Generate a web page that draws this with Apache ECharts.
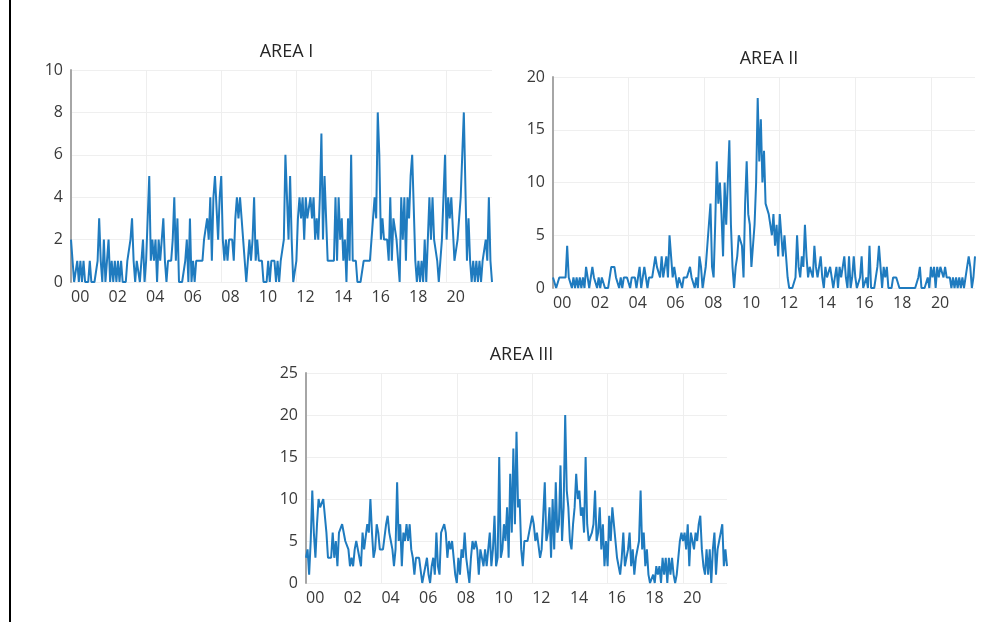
<!DOCTYPE html>
<html lang="en" style="height: 100%">
<head>
  <meta charset="utf-8">
  <script type="text/javascript" src="https://cdn.jsdelivr.net/npm/echarts@6/dist/echarts.min.js"></script>
</head>
<body style="height: 100%; margin: 0; background: #fff">
  <div id="main" style="height: 636px; width: 1006px"></div>

  <script type="text/javascript">
    // counts per 5-minute slot from 00:00, one row = 2 hours
    var areaI = [
      2,1,0,0,1,0,1,0,1,0,0,0,1,0,0,0,0,1,3,1,0,2,0,1,
      2,0,1,0,1,0,1,0,1,0,0,0,1,1,2,3,1,0,1,1,0,1,2,0,
      1,1,5,1,2,1,2,0,2,1,1,3,1,0,1,1,1,2,4,1,3,0,0,0,
      0,1,2,0,3,0,1,0,1,1,1,1,1,2,2,3,2,4,1,4,5,5,2,4,
      5,2,1,2,1,2,2,2,1,3,4,3,4,3,2,1,0,1,2,1,2,4,1,2,
      1,1,1,0,0,0,1,0,1,1,1,0,1,0,1,1,2,6,6,2,5,2,0,0,
      1,3,4,3,4,2,4,3,3,4,3,4,2,3,2,4,7,2,5,5,1,1,1,1,
      1,4,1,4,2,3,1,2,0,3,1,6,1,1,1,0,0,0,0,1,1,1,1,1,
      1,3,4,3,8,6,2,3,2,2,2,1,4,1,3,3,2,1,0,4,2,4,1,4,
      3,5,6,6,1,0,1,0,1,0,2,0,2,4,2,4,2,2,1,0,1,2,2,6,
      2,4,3,4,4,1,1,2,3,4,6,8,8,1,3,1,0,1,0,1,0,1,0,1,
      1,2,1,4,1,0
    ];
    var areaII = [
      1,1,0,0,1,1,1,1,1,4,1,1,0,1,0,1,0,1,0,1,0,2,1,0,
      1,2,1,1,0,1,0,1,1,0,0,0,1,2,2,2,1,1,0,1,0,1,1,1,
      1,0,1,1,1,0,1,2,0,1,2,2,0,1,1,1,1,3,2,2,1,3,1,1,
      3,1,5,3,1,2,1,0,1,1,0,1,1,1,1,2,1,1,0,1,0,3,2,0,
      1,2,4,4,8,2,1,6,12,8,10,7,3,10,6,10,14,6,2,0,2,3,5,5,
      4,1,8,12,7,6,2,2,6,10,18,12,16,10,13,8,8,7,6,5,7,4,6,3,
      7,5,3,5,3,1,0,0,0,0,1,5,2,1,3,2,6,3,1,2,2,1,4,2,
      1,2,3,1,0,2,1,1,2,1,0,1,2,0,2,1,1,3,1,0,3,0,1,3,
      1,0,0,1,3,0,0,1,0,4,0,0,0,1,2,4,2,0,2,1,2,0,0,0,
      1,1,1,1,0,0,0,0,0,0,0,0,0,0,0,0,1,2,0,0,0,0,1,0,
      2,1,2,0,2,1,2,2,1,2,1,1,1,0,1,0,1,0,1,0,1,0,1,1,
      3,2,0,1,3
    ];
    var areaIII = [
      3,4,1,5,11,6,3,7,10,9,9,10,10,6,3,3,3,6,3,5,2,6,6,7,
      7,5,5,4,2,3,2,4,5,5,3,2,6,4,4,7,6,10,6,3,4,7,6,4,
      4,4,4,7,8,6,5,4,2,4,12,5,7,2,6,5,7,5,7,4,3,1,3,3,
      3,3,0,1,2,3,1,0,2,3,1,6,2,1,6,6,7,6,3,5,4,5,3,1,
      0,3,1,4,3,6,3,3,0,3,5,4,5,4,1,4,3,2,4,2,4,6,2,4,
      8,2,3,15,3,4,7,5,9,3,13,6,16,7,18,9,10,4,2,5,5,5,6,7,
      8,7,5,6,6,3,4,8,12,5,6,9,3,10,4,12,6,7,14,5,9,20,11,9,
      5,4,7,9,13,10,11,8,9,6,15,7,5,5,6,7,11,5,6,9,4,7,2,5,
      2,8,5,9,9,5,3,3,1,3,6,2,3,4,6,2,4,1,3,3,5,11,4,6,
      2,4,1,0,0,1,0,2,1,2,0,3,1,3,0,3,1,3,1,0,1,3,5,6,
      5,6,4,7,2,6,5,4,6,5,7,8,4,2,1,4,1,4,0,4,6,1,4,5,
      6,7,2,4,2
    ];

    var titles = ['AREA I', 'AREA II', 'AREA III'];
    var yMax = [10, 20, 25];
    var yStep = [2, 5, 5];

    function slots(n) {
      var out = [];
      for (var i = 0; i < n; i++) {
        var h = Math.floor(i / 12), m = (i % 12) * 5;
        out.push((h < 10 ? '0' : '') + h + ':' + (m < 10 ? '0' : '') + m);
      }
      return out;
    }

    var grids = [
      { left: 71, top: 70, width: 421, height: 212 },
      { left: 553, top: 77, width: 422, height: 211 },
      { left: 306, top: 373, width: 421, height: 210 }
    ];
    var series = [areaI, areaII, areaIII];
    var font = '"Open Sans", "Noto Sans", sans-serif';

    var chart = echarts.init(document.getElementById('main'));

    var xAxes = [], yAxes = [], lines = [], heads = [];
    for (var g = 0; g < 3; g++) {
      xAxes.push({
        type: 'category',
        gridIndex: g,
        boundaryGap: false,
        data: slots(series[g].length),
        axisLine: { show: false },
        axisTick: { show: false },
        axisLabel: {
          // a label every 2 hours, gridline every 4
          interval: function (i) { return i % 24 === 0 && i <= 240; },
          formatter: function (v) { return v.slice(0, 2); },
          align: 'left',
          margin: 7,
          color: '#3a3a3a',
          fontSize: 16,
          fontFamily: font
        },
        splitLine: {
          show: true,
          interval: function (i) { return i > 0 && i % 48 === 0; },
          lineStyle: { color: '#eeeeee', width: 1 }
        }
      });
      yAxes.push({
        type: 'value',
        gridIndex: g,
        min: 0,
        max: yMax[g],
        interval: yStep[g],
        axisLine: { show: true, lineStyle: { color: '#a6a6a6', width: 2 } },
        axisTick: { show: false },
        axisLabel: { margin: 8, color: '#3a3a3a', fontSize: 16, fontFamily: font },
        splitLine: { lineStyle: { color: '#efefef', width: 1 } }
      });
      lines.push({
        type: 'line',
        xAxisIndex: g,
        yAxisIndex: g,
        data: series[g],
        symbol: 'none',
        lineStyle: { color: '#1f7bbf', width: 2 }
      });
      heads.push({
        text: titles[g],
        left: grids[g].left + grids[g].width / 2,
        top: grids[g].top - 32,
        textAlign: 'center',
        textStyle: { fontSize: 18, fontWeight: 'normal', color: '#262626', fontFamily: font }
      });
    }

    var option = {
      animation: false,
      title: heads,
      grid: grids,
      xAxis: xAxes,
      yAxis: yAxes,
      series: lines,
      graphic: [{
        type: 'rect',
        shape: { x: 9, y: 0, width: 2, height: 622 },
        style: { fill: '#000' }
      }]
    };
    chart.setOption(option);
  </script>
</body>
</html>
